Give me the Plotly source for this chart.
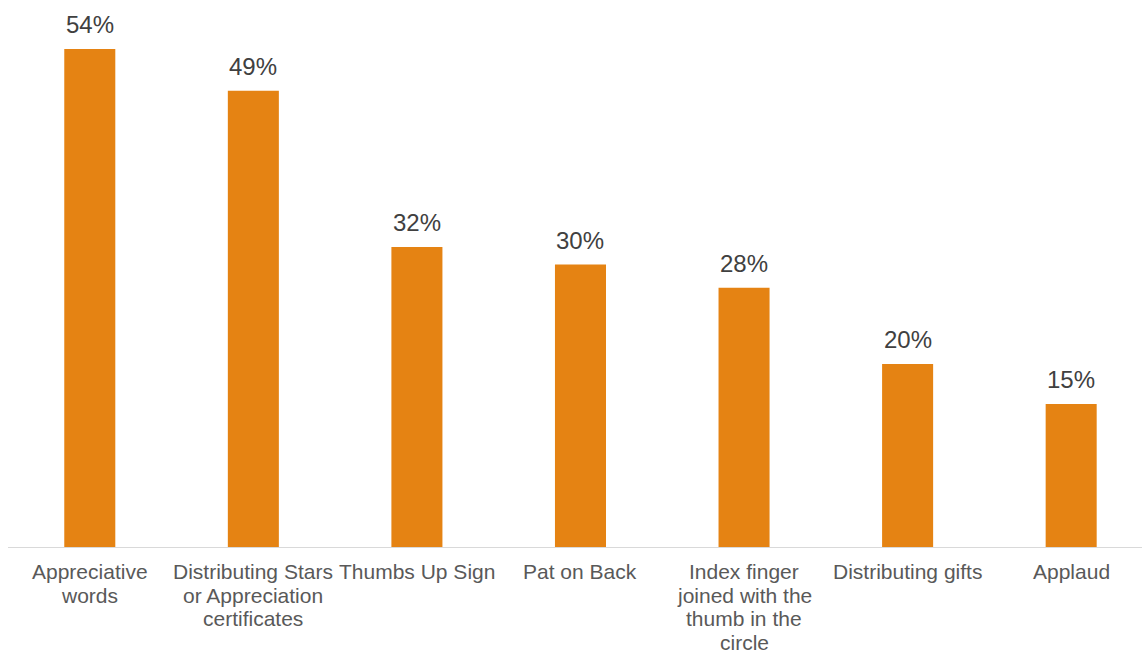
import plotly.graph_objects as go

categories = [
    "Appreciative<br>words",
    "Distributing Stars<br>or Appreciation<br>certificates",
    "Thumbs Up Sign",
    "Pat on Back",
    "Index finger<br>joined with the<br>thumb in the<br>circle",
    "Distributing gifts",
    "Applaud",
]
values = [53.6, 49.1, 32.3, 30.4, 27.9, 19.7, 15.4]
value_labels = ["54%", "49%", "32%", "30%", "28%", "20%", "15%"]

BAR_COLOR = "#E58313"
FONT = "Liberation Sans, Arial, sans-serif"

fig = go.Figure()
fig.add_trace(go.Bar(
    x=list(range(len(categories))),
    y=values,
    width=0.312,
    marker=dict(color=BAR_COLOR, line=dict(width=0)),
    hoverinfo="skip",
))

for i, (v, lab) in enumerate(zip(values, value_labels)):
    fig.add_annotation(
        x=i, y=v, text=lab, showarrow=False,
        yanchor="bottom", yshift=9,
        font=dict(family=FONT, size=24, color="#404040"),
    )

# category labels, one annotation per line for tighter line spacing
for i, cat in enumerate(categories):
    for k, line in enumerate(cat.split("<br>")):
        fig.add_annotation(
            x=i, xref="x", y=0, yref="paper", text=line, showarrow=False,
            yanchor="middle", yshift=-(24.5 + 23.6 * k),
            borderpad=0,
            font=dict(family=FONT, size=21, color="#595959"),
        )

fig.update_layout(
    width=1142, height=655,
    margin=dict(l=8, r=0, t=0, b=108),
    paper_bgcolor="white", plot_bgcolor="white",
    showlegend=False,
    xaxis=dict(
        range=[-0.5, 6.433],
        tickmode="array",
        tickvals=list(range(len(categories))),
        showticklabels=False,
        automargin=False,
        showgrid=False, zeroline=False,
        showline=True, linecolor="#D9D9D9", linewidth=1,
        ticks="",
    ),
    yaxis=dict(
        range=[0, 547 / 9.29],
        visible=False,
        automargin=False,
        showgrid=False, zeroline=False,
    ),
)

fig.write_html("out.html")
